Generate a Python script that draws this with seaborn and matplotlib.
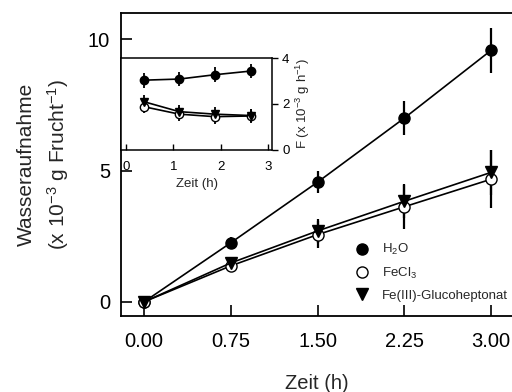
import matplotlib
matplotlib.use("Agg")
import matplotlib.pyplot as plt
from matplotlib.lines import Line2D
import seaborn as sns
import pandas as pd

# Main panel: cumulative water uptake over time
zeit = [0.00, 0.75, 1.50, 2.25, 3.00]
h2o = [0.0, 2.25, 4.56, 7.00, 9.58]
h2o_err = [0.05, 0.22, 0.43, 0.65, 0.86]
fecl3 = [0.0, 1.37, 2.56, 3.62, 4.67]
fecl3_err = [0.05, 0.20, 0.53, 0.83, 1.10]
feglu = [0.0, 1.48, 2.70, 3.83, 4.93]
feglu_err = [0.05, 0.20, 0.45, 0.65, 0.85]

# Inset: uptake rate F per interval
zeit_f = [0.375, 1.125, 1.875, 2.625]
f_h2o = [3.04, 3.09, 3.28, 3.44]
f_h2o_err = [0.33, 0.30, 0.33, 0.30]
f_fecl3 = [1.88, 1.55, 1.44, 1.47]
f_fecl3_err = [0.30, 0.30, 0.30, 0.30]
f_feglu = [2.10, 1.66, 1.55, 1.49]
f_feglu_err = [0.30, 0.30, 0.30, 0.30]

labels = ["H$_2$O", "FeCl$_3$", "Fe(III)-Glucoheptonat"]
xticks = [0.00, 0.75, 1.50, 2.25, 3.00]
xticklabels = ["0.00", "0.75", "1.50", "2.25", "3.00"]
yticks = [0, 5, 10]
inset_xticks = [0, 1, 2, 3]
inset_yticks = [0, 2, 4]

sns.set_theme(style="ticks")
plt.rcParams["font.family"] = ["Liberation Sans", "DejaVu Sans"]
plt.rcParams["mathtext.fontset"] = "custom"
plt.rcParams["mathtext.rm"] = "Liberation Sans"
plt.rcParams["mathtext.it"] = "Liberation Sans:italic"
plt.rcParams["mathtext.bf"] = "Liberation Sans:bold"

fig = plt.figure(figsize=(5.12, 3.92), dpi=100)
W, H = 512, 392

def frac(x0, y0, x1, y1):
    return [x0 / W, 1 - y1 / H, (x1 - x0) / W, (y1 - y0) / H]

ax = fig.add_axes(frac(121, 13, 512, 315.7))
styles = [
    dict(marker="o", mfc="black", mec="black"),
    dict(marker="o", mfc="white", mec="black"),
    dict(marker="v", mfc="black", mec="black"),
]

def draw(axis, x, ys, errs, ms, elw):
    for y, e, st in zip(ys, errs, styles):
        df = pd.DataFrame({"x": x, "y": y})
        axis.errorbar(x, y, yerr=e, fmt="none", ecolor="black",
                      elinewidth=elw, capsize=0, zorder=2)
        sns.lineplot(data=df, x="x", y="y", ax=axis, color="black",
                     linewidth=1.2, marker=st["marker"], markersize=ms,
                     markerfacecolor=st["mfc"], markeredgecolor=st["mec"],
                     markeredgewidth=1.0, zorder=3)

draw(ax, zeit, [h2o, fecl3, feglu], [h2o_err, fecl3_err, feglu_err], 8, 1.6)

ax.set_xlim(-0.20, 3.18)
ax.set_ylim(-0.53, 11.0)
ax.set_xticks(xticks)
ax.set_xticklabels(xticklabels)
ax.set_yticks(yticks)
ax.tick_params(direction="in", length=8, width=1.2, labelsize=14.5,
               colors="black", pad=8)
ax.tick_params(axis="x", pad=12)
ax.spines["right"].set_visible(False)
for s in ["left", "top", "bottom"]:
    ax.spines[s].set_linewidth(1.3)
    ax.spines[s].set_color("black")
ax.set_xlabel("Zeit (h)", fontsize=14.5, labelpad=16)
ax.set_ylabel("Wasseraufnahme\n(x 10$^{-3}$ g Frucht$^{-1}$)", fontsize=15,
              labelpad=12, linespacing=1.45)

handles = [Line2D([], [], linestyle="none", marker=st["marker"], markersize=8,
                  markerfacecolor=st["mfc"], markeredgecolor=st["mec"])
           for st in styles]
fig.legend(handles, labels, loc="upper left",
           bbox_to_anchor=(350 / W, 1 - 237 / H), frameon=False,
           fontsize=9.5, handletextpad=1.0, labelspacing=0.65,
           handlelength=1.0, borderaxespad=0)

# Inset
axi = fig.add_axes(frac(121, 58.3, 272.3, 149.5))
draw(axi, zeit_f, [f_h2o, f_fecl3, f_feglu],
     [f_h2o_err, f_fecl3_err, f_feglu_err], 6, 1.3)
axi.set_xlim(-0.10, 3.08)
axi.set_ylim(0, 4)
axi.set_xticks(inset_xticks)
axi.set_yticks(inset_yticks)
axi.yaxis.tick_right()
axi.yaxis.set_label_position("right")
axi.tick_params(axis="x", direction="in", length=4, width=1.0,
                labelsize=9.5, pad=8, colors="black")
axi.tick_params(axis="y", direction="out", length=4, width=1.0,
                labelsize=9.5, pad=3, colors="black")
for s in axi.spines.values():
    s.set_linewidth(1.1)
    s.set_color("black")
axi.set_xlabel("Zeit (h)", fontsize=9.5, labelpad=4)
axi.set_ylabel("F (x 10$^{-3}$ g h$^{-1}$)", fontsize=9.5, labelpad=3)

fig.savefig("out.png", dpi=100)
